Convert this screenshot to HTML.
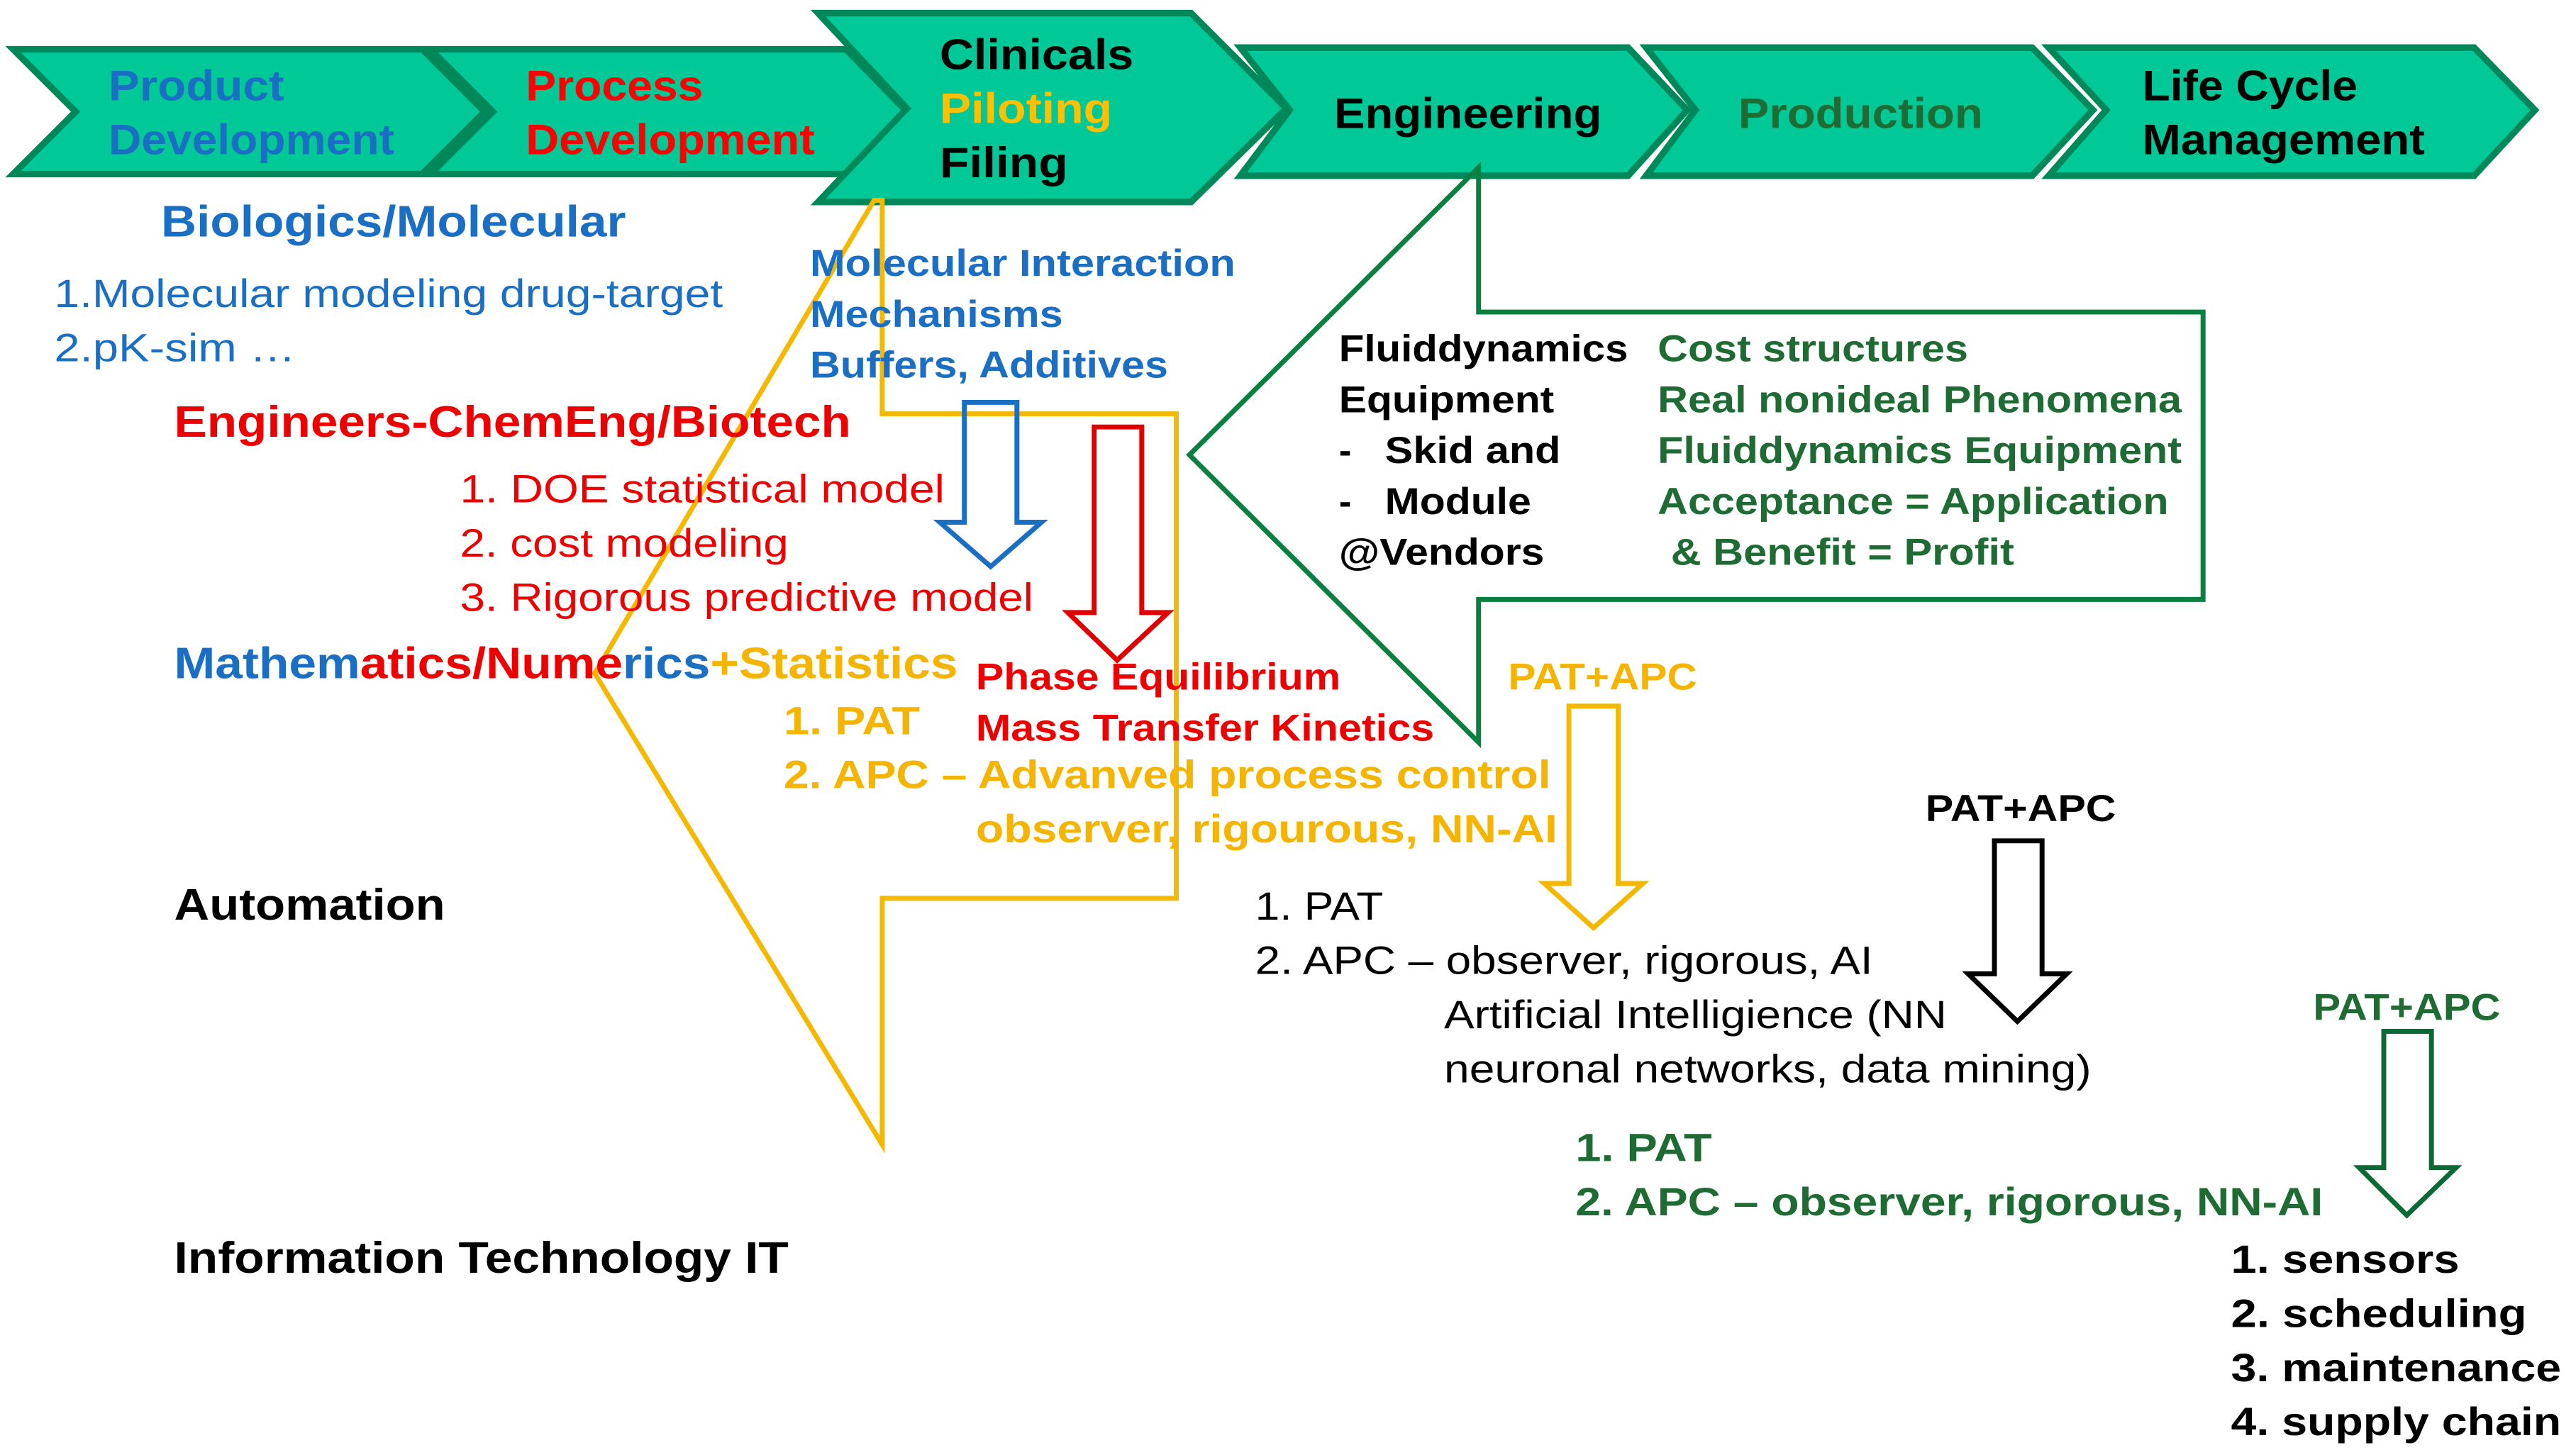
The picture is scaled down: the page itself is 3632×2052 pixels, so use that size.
<!DOCTYPE html>
<html><head><meta charset="utf-8"><style>html,body{margin:0;padding:0;background:#fff}svg{display:block}text{font-family:"Liberation Sans",Arial,sans-serif}</style></head>
<body>
<svg width="3632" height="2052" viewBox="0 0 1568 886" preserveAspectRatio="none" xmlns="http://www.w3.org/2000/svg">
<g fill="#00c896" stroke="#00885a" stroke-width="4" stroke-linejoin="miter">
<polygon points="8,30 257,30 295,68 257,106 8,106 46,68"/>
<polygon points="262,30 515,30 552,68 515,106 262,106 300,68"/>
<polygon points="755,29 991,29 1027,67 991,107 755,107 785,67"/>
<polygon points="1002,29 1237,29 1274,67 1237,107 1002,107 1032,67"/>
<polygon points="1247,29 1506,29 1543,67 1506,107 1247,107 1282,67"/>
<polygon points="498,8 725,8 783,66 725,123 498,123 552,66"/>
</g>
<g font-weight="bold" font-size="26" lengthAdjust="spacingAndGlyphs">
<text x="66" y="61" fill="#1a6fc4" textLength="107" lengthAdjust="spacingAndGlyphs">Product</text>
<text x="66" y="94" fill="#1a6fc4" textLength="174" lengthAdjust="spacingAndGlyphs">Development</text>
<text x="320" y="61" fill="#ff0000" textLength="108" lengthAdjust="spacingAndGlyphs">Process</text>
<text x="320" y="94" fill="#ff0000" textLength="176" lengthAdjust="spacingAndGlyphs">Development</text>
<text x="572" y="42" fill="#000" textLength="118" lengthAdjust="spacingAndGlyphs">Clinicals</text>
<text x="572" y="75" fill="#ffc000" textLength="105" lengthAdjust="spacingAndGlyphs">Piloting</text>
<text x="572" y="108" fill="#000" textLength="78" lengthAdjust="spacingAndGlyphs">Filing</text>
<text x="812" y="78" fill="#000" textLength="163" lengthAdjust="spacingAndGlyphs">Engineering</text>
<text x="1058" y="78" fill="#1e6b34" textLength="149" lengthAdjust="spacingAndGlyphs">Production</text>
<text x="1304" y="61" fill="#000" textLength="131" lengthAdjust="spacingAndGlyphs">Life Cycle</text>
<text x="1304" y="94" fill="#000" textLength="172" lengthAdjust="spacingAndGlyphs">Management</text>
</g>
<!-- yellow callout -->
<polygon points="532,122 537,122 537,252 716,252 716,547 537,547 537,697 362,410" fill="none" stroke="#f5b800" stroke-width="3"/>
<!-- green callout -->
<polygon points="900,102 900,190 1341,190 1341,365 900,365 900,452 724,277" fill="none" stroke="#0a8040" stroke-width="3"/>
<!-- arrows -->
<polygon points="587,245 619,245 619,318 634,318 603,345 572,318 587,318" fill="none" stroke="#1a6fc4" stroke-width="3"/>
<polygon points="666,260 695,260 695,373 711,373 680,402 650,373 666,373" fill="none" stroke="#e00000" stroke-width="3"/>
<polygon points="955,430 985,430 985,538 1000,538 970,565 940,538 955,538" fill="none" stroke="#f5b800" stroke-width="3"/>
<polygon points="1214,512 1243,512 1243,593 1258,593 1228,622 1198,593 1214,593" fill="none" stroke="#000" stroke-width="3"/>
<polygon points="1451,628 1480,628 1480,711 1495,711 1465,740 1436,711 1451,711" fill="none" stroke="#0a6a35" stroke-width="3"/>
<g font-weight="bold">
<text x="98" y="144" font-size="27" fill="#1a6fc4" textLength="283" lengthAdjust="spacingAndGlyphs">Biologics/Molecular</text>
<text x="106" y="266" font-size="27" fill="#ee0000" textLength="412" lengthAdjust="spacingAndGlyphs">Engineers-ChemEng/Biotech</text>
<text x="106" y="413" font-size="27" textLength="477" lengthAdjust="spacingAndGlyphs"><tspan fill="#1a6fc4">Mathem</tspan><tspan fill="#ee0000">atics/Nume</tspan><tspan fill="#1a6fc4">rics</tspan><tspan fill="#f5b400">+Statistics</tspan></text>
<text x="594" y="420" font-size="23" fill="#ee0000" textLength="222" lengthAdjust="spacingAndGlyphs">Phase Equilibrium</text>
<text x="594" y="451" font-size="23" fill="#ee0000" textLength="279" lengthAdjust="spacingAndGlyphs">Mass Transfer Kinetics</text>
<text x="477" y="447" font-size="24" fill="#f5b400" textLength="83" lengthAdjust="spacingAndGlyphs">1. PAT</text>
<text x="477" y="480" font-size="24" fill="#f5b400" textLength="467" lengthAdjust="spacingAndGlyphs">2. APC – Advanved process control</text>
<text x="594" y="513" font-size="24" fill="#f5b400" textLength="354" lengthAdjust="spacingAndGlyphs">observer, rigourous, NN-AI</text>
<text x="493" y="168" font-size="23" fill="#1a6fc4" textLength="259" lengthAdjust="spacingAndGlyphs">Molecular Interaction</text>
<text x="493" y="199" font-size="23" fill="#1a6fc4" textLength="154" lengthAdjust="spacingAndGlyphs">Mechanisms</text>
<text x="493" y="230" font-size="23" fill="#1a6fc4" textLength="218" lengthAdjust="spacingAndGlyphs">Buffers, Additives</text>
<g font-size="23" fill="#000">
<text x="815" y="220" textLength="176" lengthAdjust="spacingAndGlyphs">Fluiddynamics</text>
<text x="815" y="251" textLength="131" lengthAdjust="spacingAndGlyphs">Equipment</text>
<text x="815" y="282">-</text><text x="843" y="282" textLength="107" lengthAdjust="spacingAndGlyphs">Skid and</text>
<text x="815" y="313">-</text><text x="843" y="313" textLength="89" lengthAdjust="spacingAndGlyphs">Module</text>
<text x="815" y="344" textLength="125" lengthAdjust="spacingAndGlyphs">@Vendors</text>
</g>
<g font-size="23" fill="#1e6b34">
<text x="1009" y="220" textLength="189" lengthAdjust="spacingAndGlyphs">Cost structures</text>
<text x="1009" y="251" textLength="319" lengthAdjust="spacingAndGlyphs">Real nonideal Phenomena</text>
<text x="1009" y="282" textLength="319" lengthAdjust="spacingAndGlyphs">Fluiddynamics  Equipment</text>
<text x="1009" y="313" textLength="311" lengthAdjust="spacingAndGlyphs">Acceptance = Application</text>
<text x="1017" y="344" textLength="209" lengthAdjust="spacingAndGlyphs">&amp; Benefit = Profit</text>
</g>
<text x="918" y="420" font-size="23" fill="#f5b400" textLength="115" lengthAdjust="spacingAndGlyphs">PAT+APC</text>
<text x="1172" y="500" font-size="23" fill="#000" textLength="116" lengthAdjust="spacingAndGlyphs">PAT+APC</text>
<text x="1408" y="621" font-size="23" fill="#1e6b34" textLength="114" lengthAdjust="spacingAndGlyphs">PAT+APC</text>
<text x="106" y="560" font-size="27" fill="#000" textLength="165" lengthAdjust="spacingAndGlyphs">Automation</text>
<text x="106" y="775" font-size="27" fill="#000" textLength="374" lengthAdjust="spacingAndGlyphs">Information Technology IT</text>
<text x="959" y="707" font-size="24" fill="#1e6b34" textLength="83" lengthAdjust="spacingAndGlyphs">1. PAT</text>
<text x="959" y="740" font-size="24" fill="#1e6b34" textLength="455" lengthAdjust="spacingAndGlyphs">2. APC – observer, rigorous, NN-AI</text>
<g font-size="24" fill="#000">
<text x="1358" y="775" textLength="139" lengthAdjust="spacingAndGlyphs">1. sensors</text>
<text x="1358" y="808" textLength="180" lengthAdjust="spacingAndGlyphs">2. scheduling</text>
<text x="1358" y="841" textLength="201" lengthAdjust="spacingAndGlyphs">3. maintenance</text>
<text x="1358" y="874" textLength="201" lengthAdjust="spacingAndGlyphs">4. supply chain</text>
</g>
</g>
<g font-size="24">
<text x="33" y="187" fill="#1a6fc4" textLength="407" lengthAdjust="spacingAndGlyphs">1.Molecular modeling drug-target</text>
<text x="33" y="220" fill="#1a6fc4" textLength="147" lengthAdjust="spacingAndGlyphs">2.pK-sim  …</text>
<text x="280" y="306" fill="#ee0000" textLength="295" lengthAdjust="spacingAndGlyphs">1. DOE statistical model</text>
<text x="280" y="339" fill="#ee0000" textLength="200" lengthAdjust="spacingAndGlyphs">2. cost modeling</text>
<text x="280" y="372" fill="#ee0000" textLength="349" lengthAdjust="spacingAndGlyphs">3. Rigorous predictive model</text>
<text x="764" y="560" fill="#000" textLength="78" lengthAdjust="spacingAndGlyphs">1. PAT</text>
<text x="764" y="593" fill="#000" textLength="376" lengthAdjust="spacingAndGlyphs">2. APC – observer, rigorous, AI</text>
<text x="879" y="626" fill="#000" textLength="306" lengthAdjust="spacingAndGlyphs">Artificial Intelligience (NN</text>
<text x="879" y="659" fill="#000" textLength="394" lengthAdjust="spacingAndGlyphs">neuronal networks, data mining)</text>
</g>
</svg>
</body></html>
